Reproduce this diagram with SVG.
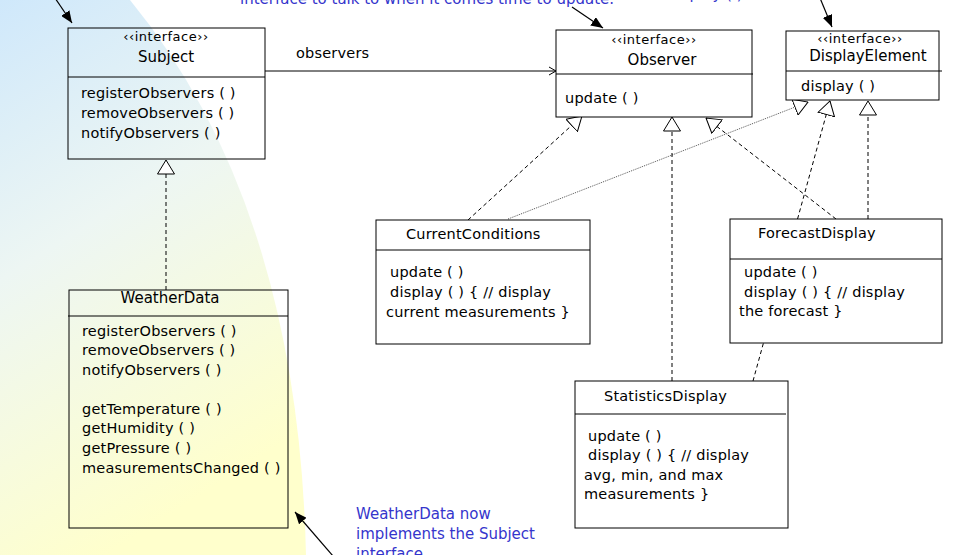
<svg xmlns="http://www.w3.org/2000/svg" width="960" height="555" viewBox="0 0 960 555">
<style>
  .box { fill: none; stroke: #000; stroke-width: 1; }
  .wbox { fill: #fff; stroke: #000; stroke-width: 1; }
  .div { stroke: #000; stroke-width: 1; }
  .t { font-family: "DejaVu Sans", "Liberation Sans", sans-serif; font-size: 14.5px; letter-spacing: 0.2px; fill: #000; }
  .st { font-family: "DejaVu Sans", "Liberation Sans", sans-serif; font-size: 13px; letter-spacing: 0.5px; fill: #000; }
  .nm { font-family: "DejaVu Sans", "Liberation Sans", sans-serif; font-size: 15px; fill: #000; }
  .note { font-family: "DejaVu Sans", "Liberation Sans", sans-serif; font-size: 15px; fill: #3535cc; }
  .dash { fill: none; stroke: #000; stroke-width: 1; stroke-dasharray: 4 3; marker-end: url(#tri); }
  .dot { fill: none; stroke: #555; stroke-width: 1; stroke-dasharray: 1 1; marker-end: url(#tri); }
  .ann { fill: none; stroke: #000; stroke-width: 1.2; marker-end: url(#fill); }
</style>
<defs>
  <linearGradient id="bg" x1="0" y1="0" x2="0.35" y2="1">
    <stop offset="0" stop-color="#cfe8fb"/>
    <stop offset="0.45" stop-color="#edf6f3"/>
    <stop offset="1" stop-color="#ffffcc"/>
  </linearGradient>
  <marker id="tri" viewBox="0 0 15 18" refX="14.5" refY="9" markerWidth="15" markerHeight="18" markerUnits="userSpaceOnUse" orient="auto">
    <path d="M0.5,0.5 L14.5,9 L0.5,17.5 Z" fill="#fff" stroke="#000" stroke-width="1" stroke-dasharray="none"/>
  </marker>
  <marker id="open" viewBox="0 0 10 10" refX="9" refY="5" markerWidth="10" markerHeight="10" markerUnits="userSpaceOnUse" orient="auto">
    <path d="M2,1 L9,5 L2,9" fill="none" stroke="#000" stroke-width="1"/>
  </marker>
  <marker id="fill" viewBox="0 0 12 10" refX="12" refY="5" markerWidth="12" markerHeight="10" markerUnits="userSpaceOnUse" orient="auto">
    <path d="M0,0 L12,5 L0,10 Z" fill="#000"/>
  </marker>
</defs>

<path id="background" d="M0,0 L130,0 Q 298,205 306,555 L0,555 Z" fill="url(#bg)"/>

<g id="notes">
  <text class="note" x="240" y="4" font-size="15.3">interface to talk to when it comes time to update.</text>
  <text class="note" x="668" y="-1">display ( )</text>
  <text class="note" x="356" y="519">WeatherData now</text>
  <text class="note" x="356" y="539">implements the Subject</text>
  <text class="note" x="356" y="559">interface</text>
</g>

<g id="connectors">
  <path class="ann" d="M55,-2 L72,23"/>
  <path class="ann" d="M572,7 L603,28"/>
  <path class="ann" d="M820,-2 L832,27"/>
  <path class="ann" d="M333,556 L295,512"/>
  <path d="M265,71 L556,71" fill="none" stroke="#000" stroke-width="1" marker-end="url(#open)"/>
  <text class="t" x="296" y="58">observers</text>
  <path class="dash" d="M166,290 L166,160"/>
  <path class="dash" d="M468,220 L582,116"/>
  <path class="dot" d="M508,219 L808,102"/>
  <path class="dash" d="M672,381 L672,117"/>
  <path class="dash" d="M836,219 L706,118"/>
  <path class="dash" d="M753,381 L830,101"/>
  <path class="dash" d="M868,219 L868,101"/>
</g>

<g id="subject">
  <rect class="box" x="68" y="28" width="197" height="131"/>
  <line class="div" x1="68" y1="77" x2="265" y2="77"/>
  <text class="st" x="166" y="41" text-anchor="middle">‹‹interface››</text>
  <text class="nm" x="166" y="62" text-anchor="middle">Subject</text>
  <text class="t" x="81" y="98">registerObservers ( )</text>
  <text class="t" x="81" y="118">removeObservers ( )</text>
  <text class="t" x="81" y="138">notifyObservers ( )</text>
</g>

<g id="observer">
  <rect class="wbox" x="556" y="30" width="196" height="87"/>
  <line class="div" x1="556" y1="74" x2="753" y2="74"/>
  <text class="st" x="654" y="44" text-anchor="middle">‹‹interface››</text>
  <text class="nm" x="662" y="65" text-anchor="middle">Observer</text>
  <text class="t" x="565" y="103">update ( )</text>
</g>

<g id="displayelement">
  <rect class="wbox" x="786" y="31" width="153" height="69"/>
  <line class="div" x1="786" y1="71" x2="942" y2="71"/>
  <text class="st" x="860" y="43" text-anchor="middle">‹‹interface››</text>
  <text class="nm" x="868" y="61" text-anchor="middle" font-size="14.5">DisplayElement</text>
  <text class="t" x="801" y="91">display ( )</text>
</g>

<g id="currentconditions">
  <rect class="wbox" x="376" y="220" width="214" height="124"/>
  <line class="div" x1="376" y1="250" x2="590" y2="250"/>
  <text class="t" x="406" y="239">CurrentConditions</text>
  <text class="t" x="390" y="277">update ( )</text>
  <text class="t" x="390" y="297">display ( ) { // display</text>
  <text class="t" x="386" y="317">current measurements }</text>
</g>

<g id="forecastdisplay">
  <rect class="wbox" x="730" y="219" width="212" height="124"/>
  <line class="div" x1="730" y1="259" x2="942" y2="259"/>
  <text class="t" x="758" y="238">ForecastDisplay</text>
  <text class="t" x="744" y="277">update ( )</text>
  <text class="t" x="744" y="297">display ( ) { // display</text>
  <text class="t" x="739" y="316">the forecast }</text>
</g>

<g id="statisticsdisplay">
  <rect class="wbox" x="575" y="381" width="213" height="147"/>
  <line class="div" x1="575" y1="414" x2="786" y2="414"/>
  <text class="t" x="604" y="401">StatisticsDisplay</text>
  <text class="t" x="588" y="441">update ( )</text>
  <text class="t" x="588" y="460">display ( ) { // display</text>
  <text class="t" x="584" y="480">avg, min, and max</text>
  <text class="t" x="584" y="499">measurements }</text>
</g>

<g id="weatherdata">
  <rect class="box" x="69" y="290" width="219" height="238"/>
  <line class="div" x1="68" y1="316" x2="288" y2="316"/>
  <text class="nm" x="170" y="303" text-anchor="middle">WeatherData</text>
  <text class="t" x="82" y="336">registerObservers ( )</text>
  <text class="t" x="82" y="355">removeObservers ( )</text>
  <text class="t" x="82" y="375">notifyObservers ( )</text>
  <text class="t" x="82" y="414">getTemperature ( )</text>
  <text class="t" x="82" y="433">getHumidity ( )</text>
  <text class="t" x="82" y="453">getPressure ( )</text>
  <text class="t" x="82" y="473">measurementsChanged ( )</text>
</g>
</svg>
